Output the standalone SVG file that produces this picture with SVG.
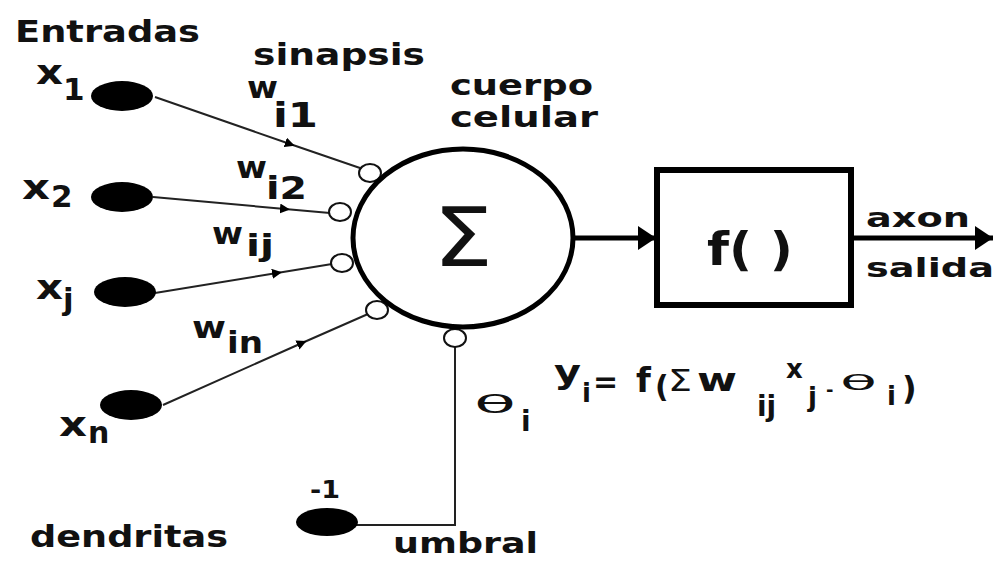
<svg xmlns="http://www.w3.org/2000/svg" width="994" height="561" viewBox="0 0 994 561">
<style>
text{font-family:"DejaVu Sans","Liberation Sans",sans-serif;font-weight:bold;fill:#111}
.n{font-weight:normal}
.in{stroke:#222;stroke-width:2;fill:none}
.syn{fill:#fff;stroke:#111;stroke-width:2}
.dot{fill:#000}
.thick{stroke:#000;stroke-width:5;fill:none}
</style>
<defs>
<marker id="mid" viewBox="0 0 10 10" refX="5" refY="5" markerWidth="10" markerHeight="10" markerUnits="userSpaceOnUse" orient="auto"><path d="M0,0 L10,5 L0,10 z" fill="#000"/></marker>
<marker id="big" viewBox="0 0 10 10" refX="10" refY="5" markerWidth="18" markerHeight="24" markerUnits="userSpaceOnUse" orient="auto" preserveAspectRatio="none"><path d="M0,0 L10,5 L0,10 z" fill="#000"/></marker>
</defs>
<rect width="994" height="561" fill="#fff"/>
<g id="connectors">
<polyline class="in" points="155,97 290,144 360,168" marker-mid="url(#mid)"/>
<polyline class="in" points="153,197 285,209 330,213" marker-mid="url(#mid)"/>
<polyline class="in" points="155,293 277,273 332,264" marker-mid="url(#mid)"/>
<polyline class="in" points="163,405 302,343 368,314" marker-mid="url(#mid)"/>
<polyline class="in" stroke-width="2.5" points="455,347 455,525 350,525"/>
<line class="thick" x1="574" y1="238" x2="656" y2="238" marker-end="url(#big)"/>
<line class="thick" x1="853" y1="238" x2="993" y2="238" marker-end="url(#big)"/>
</g>
<g id="input-x1"><ellipse class="dot" cx="122" cy="96" rx="31" ry="15"/><text x="36" y="84" font-size="34" textLength="27" lengthAdjust="spacingAndGlyphs">x</text><text x="63" y="100" font-size="31">1</text></g>
<g id="input-x2"><ellipse class="dot" cx="122" cy="197" rx="31" ry="15"/><text x="22" y="199" font-size="34" textLength="28" lengthAdjust="spacingAndGlyphs">x</text><text x="51" y="207" font-size="31">2</text></g>
<g id="input-xj"><ellipse class="dot" cx="125" cy="292" rx="31" ry="15"/><text x="36" y="299" font-size="34" textLength="27" lengthAdjust="spacingAndGlyphs">x</text><text x="63" y="310" font-size="31">j</text></g>
<g id="input-xn"><ellipse class="dot" cx="131" cy="405" rx="31" ry="15"/><text x="59" y="436" font-size="34" textLength="28" lengthAdjust="spacingAndGlyphs">x</text><text x="88" y="443" font-size="30">n</text></g>
<g id="bias"><ellipse class="dot" cx="327" cy="522" rx="31" ry="14"/><text x="310" y="498" font-size="24" textLength="30" lengthAdjust="spacingAndGlyphs">-1</text></g>
<g id="synapses">
<ellipse class="syn" cx="370" cy="173" rx="11" ry="9"/>
<ellipse class="syn" cx="340" cy="212" rx="11" ry="9"/>
<ellipse class="syn" cx="342" cy="263" rx="11" ry="9"/>
<ellipse class="syn" cx="377" cy="310" rx="11" ry="9"/>
<ellipse class="syn" cx="455" cy="338" rx="11" ry="9"/>
</g>
<g id="cell-body"><ellipse cx="463" cy="238" rx="110" ry="89" fill="none" stroke="#000" stroke-width="5"/><text x="463" y="266" font-size="82" class="n" text-anchor="middle" textLength="60" lengthAdjust="spacingAndGlyphs">Σ</text></g>
<g id="activation"><rect x="657" y="170" width="194" height="135" fill="#fff" stroke="#000" stroke-width="6"/><text x="707" y="265" font-size="46" textLength="86" lengthAdjust="spacingAndGlyphs">f( )</text></g>
<g id="weights">
<text x="247" y="98" font-size="30" textLength="31" lengthAdjust="spacingAndGlyphs">w</text><text x="273" y="127" font-size="34" textLength="45" lengthAdjust="spacingAndGlyphs">i1</text>
<text x="236" y="178" font-size="30" textLength="31" lengthAdjust="spacingAndGlyphs">w</text><text x="266" y="199" font-size="32" textLength="41" lengthAdjust="spacingAndGlyphs">i2</text>
<text x="212" y="244" font-size="30" textLength="31" lengthAdjust="spacingAndGlyphs">w</text><text x="246" y="256" font-size="30" textLength="28" lengthAdjust="spacingAndGlyphs">ij</text>
<text x="192" y="338" font-size="30" textLength="34" lengthAdjust="spacingAndGlyphs">w</text><text x="227" y="353" font-size="30" textLength="36" lengthAdjust="spacingAndGlyphs">in</text>
</g>
<g id="labels">
<text x="15" y="42" font-size="31" textLength="185" lengthAdjust="spacingAndGlyphs">Entradas</text>
<text x="253" y="65" font-size="30" textLength="172" lengthAdjust="spacingAndGlyphs">sinapsis</text>
<text x="450" y="95" font-size="28" textLength="143" lengthAdjust="spacingAndGlyphs">cuerpo</text>
<text x="450" y="127" font-size="28" textLength="148" lengthAdjust="spacingAndGlyphs">celular</text>
<text x="866" y="227" font-size="27" textLength="104" lengthAdjust="spacingAndGlyphs">axon</text>
<text x="866" y="277" font-size="27" textLength="128" lengthAdjust="spacingAndGlyphs">salida</text>
<text x="30" y="547" font-size="31" textLength="198" lengthAdjust="spacingAndGlyphs">dendritas</text>
<text x="393" y="553" font-size="29" textLength="145" lengthAdjust="spacingAndGlyphs">umbral</text>
<text x="474" y="413" font-size="24" class="n" textLength="42" lengthAdjust="spacingAndGlyphs">θ</text><text x="521" y="431" font-size="28">i</text>
</g>
<g id="formula">
<text font-size="32"><tspan x="554" y="383" textLength="27" lengthAdjust="spacingAndGlyphs">y</tspan><tspan x="582" y="402" font-size="26">i</tspan><tspan x="593" y="392" font-size="30">=</tspan><tspan x="636" y="392" font-size="34">f</tspan><tspan x="655" y="397" font-size="30">(</tspan><tspan x="668" y="391" font-size="30" class="n" textLength="24" lengthAdjust="spacingAndGlyphs">Σ</tspan><tspan x="697" y="391" textLength="40" lengthAdjust="spacingAndGlyphs">w</tspan><tspan x="757" y="416" font-size="28">ij</tspan><tspan x="786" y="378" font-size="26">x</tspan><tspan x="808" y="406" font-size="26">j</tspan><tspan x="826" y="396" font-size="18">-</tspan><tspan x="840" y="390" font-size="22" class="n" textLength="37" lengthAdjust="spacingAndGlyphs">θ</tspan><tspan x="887" y="405" font-size="26">i</tspan><tspan x="902" y="399" font-size="32">)</tspan></text>
</g>
</svg>
